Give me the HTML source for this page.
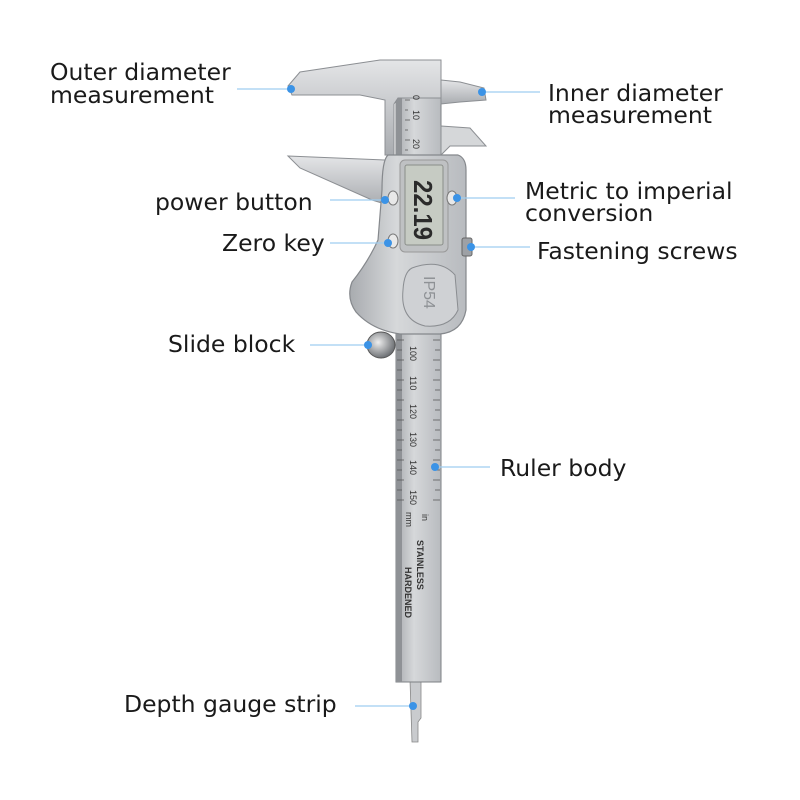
<!DOCTYPE html>
<html><head><meta charset="utf-8"><style>
html,body{margin:0;padding:0;background:#fff;}
svg{display:block;}
.l{font-family:"DejaVu Sans","Liberation Sans",sans-serif;font-size:23.5px;fill:#1a1a1a;}
.ln{stroke:#9fcdf0;stroke-width:1.3;}
.d{fill:#3b93e6;}
.rt{font-family:"Liberation Sans",sans-serif;font-size:9px;fill:#333;}
</style></head><body>
<svg width="800" height="800" viewBox="0 0 800 800" xmlns="http://www.w3.org/2000/svg">
<defs>
<linearGradient id="st" x1="0" x2="1" y1="0" y2="0">
<stop offset="0" stop-color="#a8abaf"/><stop offset="0.4" stop-color="#d6d8da"/><stop offset="1" stop-color="#b8bbbf"/>
</linearGradient>
<linearGradient id="jw" x1="0" x2="0" y1="0" y2="1">
<stop offset="0" stop-color="#e4e5e7"/><stop offset="1" stop-color="#a9acb0"/>
</linearGradient>
<radialGradient id="kn" cx="0.4" cy="0.4" r="0.6"><stop offset="0" stop-color="#eee"/><stop offset="1" stop-color="#6f7276"/></radialGradient>
</defs>
<path d="M410 680 L421 680 L421 718 L418 722 L418 742 L412 742 Z" fill="#c9cbce" stroke="#888" stroke-width="0.8"/>
<rect x="396" y="60" width="45" height="622" fill="url(#st)" stroke="#7d8084" stroke-width="1"/>
<rect x="396" y="60" width="6" height="622" fill="#8f9296"/>
<path d="M288 86 L300 72 L380 60 L441 60 L441 98 L398 98 L394 104 L394 155 L385 155 L385 100 L360 95 L292 95 Z" fill="url(#jw)" stroke="#8c8f93" stroke-width="1"/>
<path d="M441 80 L460 82 L484 88 L486 100 L460 102 L441 104 Z" fill="url(#jw)" stroke="#8c8f93" stroke-width="1"/>
<path d="M441 126 L470 128 L486 146 L450 146 L441 155 Z" fill="#d5d7d9" stroke="#8c8f93" stroke-width="1"/>
<path d="M288 156 L385 160 L388 205 L372 200 L300 168 Z" fill="url(#jw)" stroke="#8c8f93" stroke-width="1"/>
<path d="M388 155 L458 155 Q466 158 466 170 L466 310 Q462 332 440 334 L400 334 Q372 330 356 312 Q346 298 352 282 Q368 262 378 240 L382 190 Q382 160 388 155 Z" fill="url(#st)" stroke="#85888c" stroke-width="1.2"/>
<rect x="400" y="160" width="48" height="92" rx="5" fill="#bfc1c3" stroke="#999"/>
<rect x="405" y="165" width="38" height="80" rx="2" fill="#c6cbc3" stroke="#8a8e8a"/>
<text transform="translate(414,180) rotate(90)" font-family="Liberation Sans,sans-serif" font-size="26" font-weight="bold" fill="#2b2b2b" textLength="60" lengthAdjust="spacingAndGlyphs">22.19</text>
<ellipse cx="393" cy="198" rx="5" ry="7" fill="#e8e8e8" stroke="#777"/>
<ellipse cx="393" cy="241" rx="5" ry="7" fill="#e8e8e8" stroke="#777"/>
<ellipse cx="452" cy="198" rx="5" ry="7" fill="#e8e8e8" stroke="#777"/>
<rect x="462" y="238" width="10" height="18" rx="2" fill="#9ea1a5" stroke="#666"/>
<path d="M412 268 Q440 258 455 275 L458 310 Q450 328 425 326 Q400 320 403 290 Q404 272 412 268 Z" fill="#cfd1d4" stroke="#8a8d91"/>
<text transform="translate(424,276) rotate(90)" font-family="Liberation Sans,sans-serif" font-size="16" fill="#8e9195">IP54</text>
<text class="rt" transform="translate(413,95) rotate(90)">0</text>
<text class="rt" transform="translate(413,110) rotate(90)">10</text>
<text class="rt" transform="translate(413,139) rotate(90)">20</text>
<g stroke="#555" stroke-width="0.7">
<path d="M397 340 H404 M397 350 H402 M397 360 H404 M397 370 H402 M397 380 H404 M397 390 H402 M397 400 H404 M397 410 H402 M397 420 H404 M397 430 H402 M397 440 H404 M397 450 H402 M397 460 H404 M397 470 H402 M397 480 H404 M397 490 H402 M397 500 H404"/>
<path d="M433 340 H440 M435 350 H440 M433 360 H440 M435 370 H440 M433 380 H440 M435 390 H440 M433 400 H440 M435 410 H440 M433 420 H440 M435 430 H440 M433 440 H440 M435 450 H440 M433 460 H440 M435 470 H440 M433 480 H440 M435 490 H440 M433 500 H440"/>
<path d="M405 100 H410 M405 110 H408 M405 120 H410 M405 130 H408 M405 140 H410 M405 150 H408"/>
</g>
<text class="rt" transform="translate(410,346) rotate(90)">100</text>
<text class="rt" transform="translate(410,376) rotate(90)">110</text>
<text class="rt" transform="translate(410,404) rotate(90)">120</text>
<text class="rt" transform="translate(410,432) rotate(90)">130</text>
<text class="rt" transform="translate(410,460) rotate(90)">140</text>
<text class="rt" transform="translate(410,490) rotate(90)">150</text>
<text class="rt" font-size="7" transform="translate(406,512) rotate(90)">mm</text>
<text class="rt" font-size="8" transform="translate(422,514) rotate(90)">in</text>
<text class="rt" font-size="10" font-weight="bold" transform="translate(417,540) rotate(90)">STAINLESS</text>
<text class="rt" font-size="10" font-weight="bold" transform="translate(405,567) rotate(90)">HARDENED</text>
<ellipse cx="381" cy="345" rx="14" ry="13" fill="url(#kn)" stroke="#555"/>
<text class="l" x="50" y="80">Outer diameter</text>
<text class="l" x="50" y="103">measurement</text>
<line class="ln" x1="237" y1="89" x2="291" y2="89"/><circle class="d" cx="291" cy="89" r="4"/>
<text class="l" x="548" y="101">Inner diameter</text>
<text class="l" x="548" y="123">measurement</text>
<line class="ln" x1="482" y1="92" x2="540" y2="92"/><circle class="d" cx="482" cy="92" r="4"/>
<text class="l" x="155" y="210">power button</text>
<line class="ln" x1="330" y1="200" x2="385" y2="200"/><circle class="d" cx="385" cy="200" r="4"/>
<text class="l" x="525" y="199">Metric to imperial</text>
<text class="l" x="525" y="221">conversion</text>
<line class="ln" x1="457" y1="198" x2="515" y2="198"/><circle class="d" cx="457" cy="198" r="4"/>
<text class="l" x="222" y="251">Zero key</text>
<line class="ln" x1="330" y1="243" x2="388" y2="243"/><circle class="d" cx="388" cy="243" r="4"/>
<text class="l" x="537" y="259">Fastening screws</text>
<line class="ln" x1="471" y1="247" x2="530" y2="247"/><circle class="d" cx="471" cy="247" r="4"/>
<text class="l" x="168" y="352">Slide block</text>
<line class="ln" x1="310" y1="345" x2="368" y2="345"/><circle class="d" cx="368" cy="345" r="4"/>
<text class="l" x="500" y="476">Ruler body</text>
<line class="ln" x1="435" y1="467" x2="490" y2="467"/><circle class="d" cx="435" cy="467" r="4"/>
<text class="l" x="124" y="712">Depth gauge strip</text>
<line class="ln" x1="355" y1="706" x2="413" y2="706"/><circle class="d" cx="413" cy="706" r="4"/>
</svg>
</body></html>
